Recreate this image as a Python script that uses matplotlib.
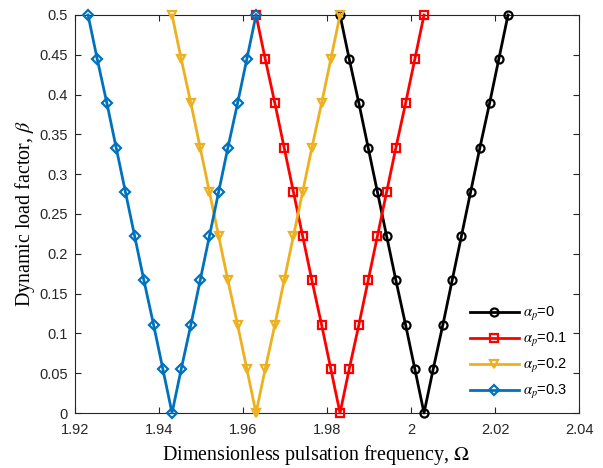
import numpy as np
import matplotlib
matplotlib.use('Agg')
import matplotlib.pyplot as plt

plt.rcParams['font.family'] = ['Liberation Sans', 'DejaVu Sans']
plt.rcParams['mathtext.fontset'] = 'stix'

# load factor samples (same for every curve)
beta = [0.5, 0.4444, 0.3889, 0.3333, 0.2778, 0.2222, 0.1667, 0.1111, 0.0556, 0.0,
        0.0556, 0.1111, 0.1667, 0.2222, 0.2778, 0.3333, 0.3889, 0.4444, 0.5]

# resonance frequencies for each alpha_p
omega_a0 = [1.9831, 1.9853, 1.9876, 1.9898, 1.9920, 1.9942, 1.9964, 1.9987, 2.0009, 2.0031,
            2.0053, 2.0076, 2.0098, 2.0120, 2.0142, 2.0164, 2.0187, 2.0209, 2.0231]
omega_a01 = [1.9631, 1.9653, 1.9676, 1.9698, 1.9720, 1.9742, 1.9764, 1.9787, 1.9809, 1.9831,
             1.9853, 1.9876, 1.9898, 1.9920, 1.9942, 1.9964, 1.9987, 2.0009, 2.0031]
omega_a02 = [1.9431, 1.9453, 1.9476, 1.9498, 1.9520, 1.9542, 1.9564, 1.9587, 1.9609, 1.9631,
             1.9653, 1.9676, 1.9698, 1.9720, 1.9742, 1.9764, 1.9787, 1.9809, 1.9831]
omega_a03 = [1.9231, 1.9253, 1.9276, 1.9298, 1.9320, 1.9342, 1.9364, 1.9387, 1.9409, 1.9431,
             1.9453, 1.9476, 1.9498, 1.9520, 1.9542, 1.9564, 1.9587, 1.9609, 1.9631]

labels = [r'$\alpha_p$=0', r'$\alpha_p$=0.1', r'$\alpha_p$=0.2', r'$\alpha_p$=0.3']

fig = plt.figure(figsize=(6.03, 4.68), dpi=100)
ax = fig.add_axes([0.1244, 0.1175, 0.8358, 0.8505])

series = [(omega_a0, 'k', 'o'),
          (omega_a01, 'r', 's'),
          (omega_a02, (0.929, 0.694, 0.125), 'v'),
          (omega_a03, (0.0, 0.447, 0.741), 'D')]
for (om, c, m), lab in zip(series, labels):
    ms = 4.8 if m == 'D' else 5.8
    ax.plot(om, beta, color=c, marker=m, lw=2, ms=ms, mfc='none', mew=1.6,
            label=lab, clip_on=False, zorder=3)

ax.set_xlim(1.92, 2.04)
ax.set_ylim(0, 0.5)
ax.set_xticks(np.arange(1.92, 2.0401, 0.02))
ax.set_xticklabels(['1.92', '1.94', '1.96', '1.98', '2', '2.02', '2.04'])
ax.set_yticks(np.arange(0, 0.501, 0.05))
ax.set_yticklabels(['0', '0.05', '0.1', '0.15', '0.2', '0.25', '0.3', '0.35', '0.4', '0.45', '0.5'])
ax.tick_params(direction='in', top=True, right=True, labelsize=10.5, length=4,
               width=0.8, colors='#262626')
ax.tick_params(axis='x', pad=7)
ax.tick_params(axis='y', pad=5)
for s in ax.spines.values():
    s.set_linewidth(0.8)
    s.set_color('#262626')

ax.set_xlabel(r'Dimensionless pulsation frequency, $\Omega$', family='Liberation Serif',
              fontsize=14.4)
ax.xaxis.set_label_coords(0.478, -0.075)
ax.set_ylabel(r'Dynamic load factor, $\beta$', family='Liberation Serif',
              fontsize=14.4, labelpad=2)

# legend without frame, bottom right inside the box
leg = ax.legend(loc='lower right', bbox_to_anchor=(0.988, 0.015), fontsize=10.5,
                frameon=False, handlelength=3.35, borderaxespad=0,
                labelspacing=0.55, handletextpad=0.3)

fig.savefig('out.png', dpi=100)
